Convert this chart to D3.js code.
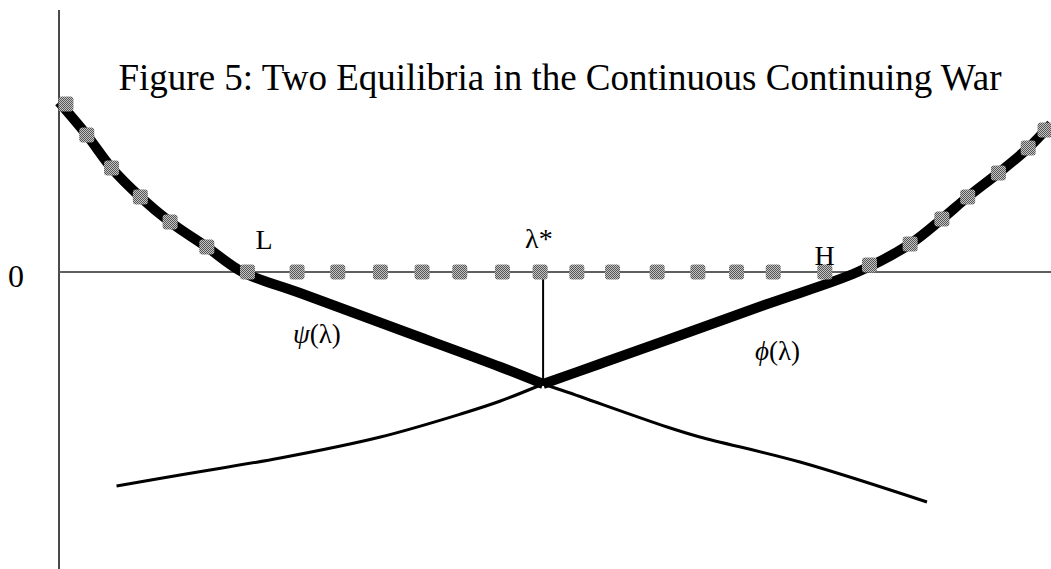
<!DOCTYPE html>
<html lang="en">
<head>
<meta charset="UTF-8">
<title>Figure 5: Two Equilibria in the Continuous Continuing War</title>
<script src="https://d3js.org/d3.v7.min.js"></script>
<style>
  body { margin: 0; background: #fff; }
  text { font-family: "Liberation Serif", "Times New Roman", serif; fill: #000; }
</style>
</head>
<body>
<script>
    // psi(lambda): falls from top-left, crosses zero at L
    const psiLambda = [0, 0.028, 0.053, 0.082, 0.112, 0.149, 0.185, 0.243, 0.344, 0.445, 0.488, 0.512, 0.613, 0.646, 0.747, 0.875];
    const psiValues = [1.70, 1.37, 1.04, 0.75, 0.50, 0.25, 0, -0.21, -0.58, -0.95, -1.12, -1.20, -1.55, -1.65, -1.90, -2.30];

    // phi(lambda): rises from bottom-left, crosses zero at H
    const phiLambda = [0.058, 0.122, 0.223, 0.324, 0.405, 0.445, 0.488, 0.545, 0.613, 0.714, 0.805, 0.858, 0.890, 0.916, 0.947, 0.977, 1.0];
    const phiValues = [-2.14, -2.03, -1.86, -1.65, -1.42, -1.29, -1.12, -0.92, -0.68, -0.32, 0, 0.28, 0.53, 0.75, 0.99, 1.24, 1.48];

    // gray square markers on the upper envelope
    const markerLambda = [0.007, 0.028, 0.053, 0.082, 0.112, 0.149, 0.190, 0.240, 0.281, 0.324, 0.366, 0.404, 0.447, 0.485,
        0.522, 0.558, 0.603, 0.644, 0.683, 0.720, 0.772, 0.817, 0.858, 0.890, 0.916, 0.947, 0.977, 0.994];
    const markerValues = [1.68, 1.37, 1.04, 0.75, 0.50, 0.25, 0, 0, 0, 0, 0, 0, 0, 0,
        0, 0, 0, 0, 0, 0, 0, 0.07, 0.28, 0.53, 0.75, 0.99, 1.24, 1.42];

    const lambdaL = 0.185, lambdaStar = 0.488, lambdaH = 0.805;
    const starValue = -1.12;

    const width = 1051, height = 569;
    const svg = d3.select("body").append("svg")
        .attr("width", width)
        .attr("height", height);

    const x = d3.scaleLinear().domain([0, 1]).range([59, 1051]);
    const y = d3.scaleLinear().domain([-2.97, 2.62]).range([569, 10]);

    // checkered gray fill for the markers
    const pat = svg.append("defs").append("pattern")
        .attr("id", "dither")
        .attr("width", 2).attr("height", 2)
        .attr("patternUnits", "userSpaceOnUse");
    pat.append("rect").attr("width", 2).attr("height", 2).attr("fill", "#c4c4c4");
    pat.append("rect").attr("width", 1).attr("height", 1).attr("fill", "#555");
    pat.append("rect").attr("x", 1).attr("y", 1).attr("width", 1).attr("height", 1).attr("fill", "#555");

    // axes
    svg.append("line")
        .attr("x1", x(0)).attr("x2", x(0))
        .attr("y1", y(2.62)).attr("y2", y(-2.97))
        .attr("stroke", "#4a4a4a").attr("stroke-width", 2);
    svg.append("line")
        .attr("x1", x(0)).attr("x2", x(1))
        .attr("y1", y(0)).attr("y2", y(0))
        .attr("stroke", "#5f5f5f").attr("stroke-width", 2);

    const line = d3.line()
        .x(d => x(d[0]))
        .y(d => y(d[1]))
        .curve(d3.curveCatmullRom.alpha(0.5));

    const psi = psiLambda.map((l, i) => [l, psiValues[i]]);
    const phi = phiLambda.map((l, i) => [l, phiValues[i]]);

    // thin parts
    svg.append("path").datum(psi.filter(d => d[0] >= lambdaStar))
        .attr("d", line).attr("fill", "none").attr("stroke", "#000").attr("stroke-width", 3);
    svg.append("path").datum(phi.filter(d => d[0] <= lambdaStar))
        .attr("d", line).attr("fill", "none").attr("stroke", "#000").attr("stroke-width", 3);

    // thick parts
    svg.append("path").datum(psi.filter(d => d[0] <= lambdaStar))
        .attr("d", line).attr("fill", "none").attr("stroke", "#000").attr("stroke-width", 10);
    svg.append("path").datum(phi.filter(d => d[0] >= lambdaStar))
        .attr("d", line).attr("fill", "none").attr("stroke", "#000").attr("stroke-width", 10);

    // lambda* drop line
    svg.append("line")
        .attr("x1", x(lambdaStar)).attr("x2", x(lambdaStar))
        .attr("y1", y(0)).attr("y2", y(starValue))
        .attr("stroke", "#000").attr("stroke-width", 2);

    // markers
    const ms = 15;
    svg.selectAll("rect.marker")
        .data(markerLambda.map((l, i) => [l, markerValues[i]]))
        .enter().append("rect")
        .attr("class", "marker")
        .attr("x", d => x(d[0]) - ms / 2)
        .attr("y", d => y(d[1]) - ms / 2)
        .attr("width", ms).attr("height", ms)
        .attr("rx", 3)
        .attr("fill", "url(#dither)");

    // title
    svg.append("text")
        .attr("x", 560).attr("y", 90)
        .attr("text-anchor", "middle")
        .attr("font-size", 37)
        .text("Figure 5: Two Equilibria in the Continuous Continuing War");

    // labels
    svg.append("text").attr("x", 8).attr("y", 287).attr("font-size", 32).text("0");
    svg.append("text").attr("x", x(lambdaL) + 13).attr("y", y(0) - 23).attr("font-size", 28).text("L");
    svg.append("text").attr("x", x(lambdaStar) - 18).attr("y", y(0) - 24).attr("font-size", 28).text("λ*");
    svg.append("text").attr("x", x(lambdaH) - 43).attr("y", y(0) - 7).attr("font-size", 28).text("H");

    const psiLab = svg.append("text").attr("x", 293).attr("y", 343).attr("font-size", 27);
    psiLab.append("tspan").attr("font-style", "italic").text("ψ");
    psiLab.append("tspan").text("(λ)");
    const phiLab = svg.append("text").attr("x", 755).attr("y", 360).attr("font-size", 27);
    phiLab.append("tspan").attr("font-style", "italic").text("ϕ");
    phiLab.append("tspan").text("(λ)");
</script>
</body>
</html>
